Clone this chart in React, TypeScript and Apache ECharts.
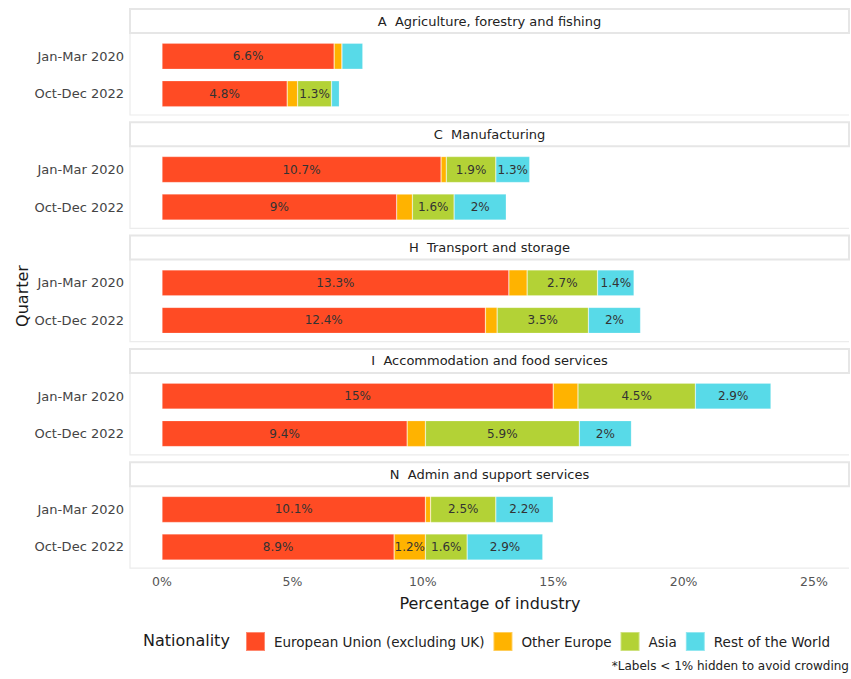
import React, { useEffect, useRef } from "react";
import * as echarts from "echarts";

const industries = [
  "A  Agriculture, forestry and fishing",
  "C  Manufacturing",
  "H  Transport and storage",
  "I  Accommodation and food services",
  "N  Admin and support services",
];
const quarters = ["Jan-Mar 2020", "Oct-Dec 2022"];
const nationalities = ["European Union (excluding UK)", "Other Europe", "Asia", "Rest of the World"];
const colors = ["#FF4B24", "#FFB300", "#B3D236", "#58DAE8"];

// [industry][quarter]
const euValues = [[6.6, 4.8], [10.7, 9], [13.3, 12.4], [15, 9.4], [10.1, 8.9]];
const otherEuropeValues = [[0.3, 0.4], [0.2, 0.6], [0.7, 0.45], [0.95, 0.7], [0.2, 1.2]];
const asiaValues = [[0, 1.3], [1.9, 1.6], [2.7, 3.5], [4.5, 5.9], [2.5, 1.6]];
const restValues = [[0.8, 0.3], [1.3, 2], [1.4, 2], [2.9, 2], [2.2, 2.9]];
const xTicks = [0, 5, 10, 15, 20, 25];

const FONT = "DejaVu Sans";

export default function App() {
  const ref = useRef<HTMLDivElement>(null);
  useEffect(() => {
    if (!ref.current) return;
    const chart = echarts.init(ref.current, null, { renderer: "svg" });
    const seriesSets = [euValues, otherEuropeValues, asiaValues, restValues];
    const pitch = 113.3;
    const stripTop0 = 9;
    const panelLeft = 130;
    const panelRight = 849;
    const grids: any[] = [];
    const xAxes: any[] = [];
    const yAxes: any[] = [];
    const series: any[] = [];
    const graphics: any[] = [];
    industries.forEach((ind, i) => {
      const st = stripTop0 + i * pitch;
      grids.push({ left: 162, right: 37, top: st + 28.5, height: 75, containLabel: false });
      const last = i === industries.length - 1;
      xAxes.push({
        type: "value",
        gridIndex: i,
        min: 0,
        max: 25,
        interval: 5,
        axisLine: { show: false },
        axisTick: { show: false },
        splitLine: { show: false },
        axisLabel: {
          show: last,
          formatter: (v: number) => (xTicks.includes(v) ? `${v}%` : ""),
          color: "#555",
          fontFamily: FONT,
          fontSize: 12.5,
          margin: 9,
        },
      });
      yAxes.push({
        type: "category",
        gridIndex: i,
        data: quarters,
        inverse: true,
        axisLine: { show: false },
        axisTick: { show: false },
        axisLabel: { color: "#444", fontFamily: FONT, fontSize: 13, margin: 38 },
      });
      nationalities.forEach((nat, k) => {
        series.push({
          name: nat,
          type: "bar",
          xAxisIndex: i,
          yAxisIndex: i,
          stack: "s" + i,
          barWidth: 26,
          data: seriesSets[k][i],
          itemStyle: { color: colors[k], borderColor: "rgba(255,255,255,0.35)", borderWidth: 0.6 },
          label: {
            show: true,
            position: "inside",
            formatter: (p: any) => (p.value >= 1 ? `${p.value}%` : ""),
            color: "#333",
            fontFamily: FONT,
            fontSize: 12,
          },
        });
      });
      graphics.push({
        type: "polyline",
        shape: { points: [[panelLeft, st + 24], [panelLeft, st + 106], [panelRight, st + 106]] },
        style: { stroke: "#ececec", lineWidth: 1.2, fill: null },
        silent: true,
      });
      graphics.push({
        type: "rect",
        shape: { x: panelLeft, y: st, width: panelRight - panelLeft, height: 24 },
        style: { fill: "#fff", stroke: "#e6e6e6", lineWidth: 2 },
        silent: true,
      });
      graphics.push({
        type: "text",
        x: (panelLeft + panelRight) / 2,
        y: st + 12,
        style: {
          text: ind,
          textAlign: "center",
          textVerticalAlign: "middle",
          fill: "#222",
          font: `13px '${FONT}'`,
        },
        silent: true,
      });
    });
    graphics.push({
      type: "text",
      x: 490,
      y: 603,
      style: { text: "Percentage of industry", textAlign: "center", textVerticalAlign: "middle", fill: "#1a1a1a", font: `16px '${FONT}'` },
    });
    graphics.push({
      type: "text",
      x: 22,
      y: 296,
      rotation: Math.PI / 2,
      style: { text: "Quarter", textAlign: "center", textVerticalAlign: "middle", fill: "#1a1a1a", font: `16px '${FONT}'` },
    });
    graphics.push({
      type: "text",
      x: 143,
      y: 640,
      style: { text: "Nationality", textAlign: "left", textVerticalAlign: "middle", fill: "#1a1a1a", font: `16px '${FONT}'` },
    });
    graphics.push({
      type: "text",
      x: 849,
      y: 666,
      style: { text: "*Labels < 1% hidden to avoid crowding", textAlign: "right", textVerticalAlign: "middle", fill: "#222", font: `12px '${FONT}'` },
    });
    chart.setOption({
      animation: false,
      backgroundColor: "#fff",
      grid: grids,
      xAxis: xAxes,
      yAxis: yAxes,
      series,
      legend: {
        data: nationalities,
        left: 245,
        top: 631,
        padding: 0,
        icon: "rect",
        itemWidth: 19,
        itemHeight: 19,
        itemGap: 8,
        textStyle: { color: "#222", fontFamily: FONT, fontSize: 13.5, padding: [0, 0, 0, 4] },
      },
      graphic: graphics,
    });
    return () => chart.dispose();
  }, []);
  return <div ref={ref} style={{ width: 851, height: 679, position: "absolute", left: 0, top: 0 }} />;
}
